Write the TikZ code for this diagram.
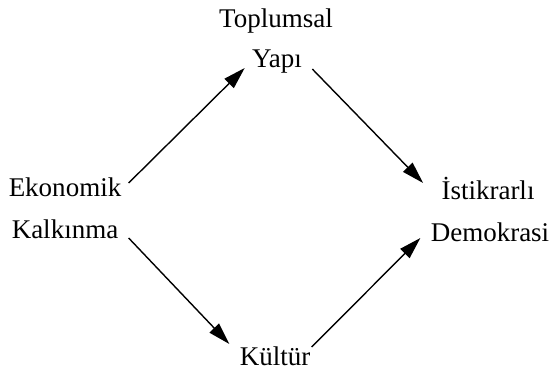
\documentclass[tikz,border=0pt]{standalone}
\usepackage{fontspec}
\setmainfont{Liberation Serif}
\usetikzlibrary{arrows.meta,calc}

\begin{document}
\begin{tikzpicture}[x=0.5pt, y=-0.5pt,
	every node/.style={inner sep=0pt, anchor=base, font=\fontsize{13.5}{16}\selectfont},
	link/.style={-{Triangle[length=11pt, width=6.5pt]}, line width=0.7pt}]
	\useasboundingbox (0,0) rectangle (551,373);
	\node (toplumsal) at (276,28) {Toplumsal};
	\node (yapi) at (277,68) {Yapı};
	\node (ekonomik) at (65,197) {Ekonomik};
	\node (kalkinma) at (65,239) {Kalkınma};
	\node (istikrarli) at (488,200) {İstikrarlı};
	\node (demokrasi) at (490,242) {Demokrasi};
	\node (kultur) at (275,365) {Kültür};

	\draw[link] ($(ekonomik.base east)+(7,-14)$) -- ($(yapi.base west)+(-7,0)$);
	\draw[link] ($(yapi.base east)+(10,1)$) -- ($(istikrarli.base west)+(-18,-17)$);
	\draw[link] ($(kalkinma.base east)+(10,-1)$) -- ($(kultur.base west)+(-10,-21)$);
	\draw[link] ($(kultur.base east)+(1,-18)$) -- ($(demokrasi.base west)+(-10,-4)$);
\end{tikzpicture}
\end{document}
